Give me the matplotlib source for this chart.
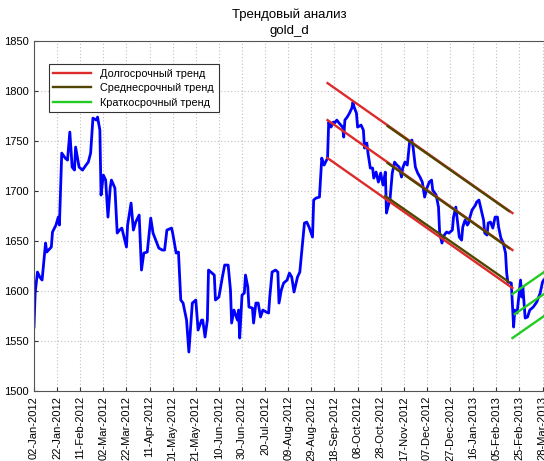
"""Trend analysis chart - gold_d"""

import matplotlib
matplotlib.use("Agg")
import matplotlib.pyplot as plt

plt.rcParams['font.family'] = ['Liberation Sans', 'DejaVu Sans']

# days since 02-Jan-2012 and closing price
days = [0, 1, 3, 5, 7, 10, 11, 15, 16, 19, 21, 22, 24, 27, 29, 31, 33, 35, 36, 39,
        42, 45, 47, 49, 51, 54, 55, 57, 58, 60, 62, 64, 66, 67, 70, 72, 74, 76, 80, 81,
        84, 86, 88, 91, 93, 95, 98, 101, 103, 106, 108, 111, 113, 115, 119, 120, 123, 125, 127, 129,
        132, 134, 137, 140, 142, 145, 146, 148, 150, 151, 154, 156, 157, 160, 163, 165, 168, 170, 171, 173,
        176, 177, 178, 180, 182, 183, 185, 186, 189, 190, 192, 194, 196, 198, 201, 203, 204, 206, 209, 211,
        212, 214, 216, 219, 221, 223, 225, 228, 230, 232, 234, 236, 238, 241, 242, 244, 247, 248, 249, 251,
        254, 255, 257, 259, 260, 262, 264, 267, 268, 269, 271, 273, 275, 276, 277, 279, 280, 283, 285, 286,
        288, 289, 291, 293, 294, 296, 298, 300, 302, 304, 305, 306, 308, 310, 312, 314, 316, 318, 319, 321,
        323, 325, 327, 328, 330, 332, 334, 336, 338, 340, 342, 344, 345, 348, 350, 351, 353, 355, 357, 359,
        362, 363, 365, 366, 368, 370, 371, 373, 375, 376, 377, 379, 382, 383, 385, 387, 389, 390, 392, 393,
        395, 397, 399, 401, 402, 404, 406, 408, 409, 410, 413, 415, 416, 418, 421, 422, 423, 425, 427, 429,
        432, 435, 438, 440, 441]
price = [1564, 1598, 1619, 1614, 1611, 1648, 1639, 1644, 1659, 1666, 1674, 1666, 1738, 1733, 1731, 1759, 1724, 1721, 1744, 1724,
         1721, 1726, 1729, 1738, 1773, 1771, 1774, 1761, 1696, 1716, 1711, 1674, 1704, 1711, 1703, 1658, 1661, 1663, 1644, 1666,
         1688, 1661, 1669, 1676, 1621, 1638, 1639, 1673, 1658, 1649, 1643, 1641, 1641, 1661, 1663, 1658, 1638, 1639, 1591, 1588,
         1571, 1539, 1588, 1591, 1561, 1571, 1571, 1554, 1571, 1621, 1618, 1616, 1591, 1594, 1614, 1626, 1626, 1601, 1568, 1581,
         1571, 1581, 1553, 1596, 1598, 1616, 1604, 1584, 1583, 1568, 1588, 1588, 1574, 1581, 1579, 1578, 1594, 1619, 1621, 1619,
         1588, 1601, 1608, 1611, 1618, 1614, 1599, 1614, 1619, 1644, 1668, 1669, 1664, 1654, 1691, 1693, 1694, 1714, 1733, 1726,
         1733, 1769, 1764, 1769, 1768, 1771, 1768, 1764, 1754, 1771, 1774, 1778, 1783, 1789, 1784, 1778, 1764, 1766, 1761, 1743,
         1748, 1738, 1723, 1723, 1713, 1719, 1709, 1718, 1706, 1719, 1678, 1683, 1691, 1718, 1729, 1726, 1724, 1714, 1723, 1729,
         1726, 1749, 1751, 1744, 1724, 1718, 1714, 1709, 1694, 1703, 1709, 1711, 1701, 1696, 1684, 1658, 1648, 1656, 1659, 1658,
         1661, 1674, 1684, 1674, 1654, 1651, 1664, 1671, 1666, 1668, 1673, 1681, 1686, 1689, 1691, 1681, 1671, 1658, 1656, 1668,
         1669, 1663, 1674, 1674, 1664, 1653, 1648, 1638, 1618, 1609, 1608, 1564, 1581, 1578, 1611, 1594, 1604, 1573, 1574, 1581,
         1584, 1589, 1598, 1609, 1611]

# trend channels: (start day, end day, start value, end value)
long_trend = [(254, 414, 1808, 1678), (254, 414, 1771, 1641), (254, 414, 1733, 1603)]
mid_trend = [(306, 411, 1765, 1680), (306, 411, 1728, 1643), (304, 411, 1695, 1609)]
short_trend = [(414, 450, 1597, 1626), (416, 450, 1577, 1604), (414, 450, 1553, 1582)]

tick_days = list(range(0, 441, 20))
tick_labels = ['02-Jan-2012', '22-Jan-2012', '11-Feb-2012', '02-Mar-2012', '22-Mar-2012',
               '11-Apr-2012', '01-May-2012', '21-May-2012', '10-Jun-2012', '30-Jun-2012',
               '20-Jul-2012', '09-Aug-2012', '29-Aug-2012', '18-Sep-2012', '08-Oct-2012',
               '28-Oct-2012', '17-Nov-2012', '07-Dec-2012', '27-Dec-2012', '16-Jan-2013',
               '05-Feb-2013', '25-Feb-2013', '28-Mar-2013']

fig = plt.figure(figsize=(5.44, 4.61), dpi=100)
ax = fig.add_axes([0.0625, 0.1518, 0.939, 0.759])

ax.plot(days, price, color='#0000ff', linewidth=2)

red, olive, green = '#dd2a2a', '#504600', '#22cc22'
for i, (d0, d1, v0, v1) in enumerate(long_trend):
    ax.plot([d0, d1], [v0, v1], color=red, linewidth=1.7,
            label='Долгосрочный тренд' if i == 0 else None)
for i, (d0, d1, v0, v1) in enumerate(mid_trend):
    ax.plot([d0, d1], [v0, v1], color=olive, linewidth=1.7,
            label='Среднесрочный тренд' if i == 0 else None)
for i, (d0, d1, v0, v1) in enumerate(short_trend):
    ax.plot([d0, d1], [v0, v1], color=green, linewidth=1.7,
            label='Краткосрочный тренд' if i == 0 else None)

ax.set_xlim(0, 442)
ax.set_ylim(1500, 1850)
ax.set_xticks(tick_days)
ax.set_xticklabels(tick_labels, rotation=90, fontsize=8)
ax.set_yticks(range(1500, 1851, 50))
ax.tick_params(axis='y', labelsize=8)
ax.tick_params(direction='in', length=3, color='#333333')
ax.grid(True, linestyle=(0, (1, 2)), color='#c0c0c0', linewidth=0.8)
for s in ax.spines.values():
    s.set_color('#555555')
    s.set_linewidth(0.8)

ax.set_title('Трендовый анализ\ngold_d', fontsize=9.5, pad=5, linespacing=1.45)

leg = ax.legend(loc='upper left', bbox_to_anchor=(0.018, 0.95), fontsize=7.8,
                fancybox=False, framealpha=1, edgecolor='#333333',
                handlelength=3.5, borderpad=0.45, labelspacing=0.4)
leg.get_frame().set_linewidth(0.8)

fig.savefig('out.png', dpi=100)
